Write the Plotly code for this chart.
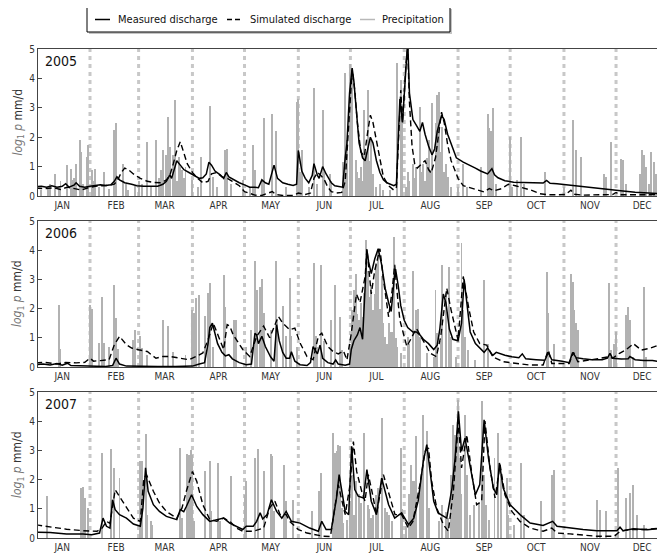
import plotly.graph_objects as go

# ---------------- data ----------------
YEARS = ["2005", "2006", "2007"]
MONTH_LABELS = ["JAN", "FEB", "MAR", "APR", "MAY", "JUN", "JUL", "AUG", "SEP", "OCT", "NOV", "DEC"]
MONTH_MID_DAYS = [15, 46, 74, 105, 135, 166, 196, 227, 258, 288, 319, 349]
MONTH_START_DAYS = [31, 59, 90, 120, 151, 181, 212, 243, 273, 304, 334]
Y_TICKS = [0, 1, 2, 3, 4, 5]

# (day of year, log value)
measured_2005 = [(0,0.32),(3,0.33),(6,0.3),(9,0.35),(12,0.3),(15,0.33),(17,0.42),(19,0.3),(22,0.38),(23,0.45),
    (25,0.33),(28,0.3),(31,0.33),(34,0.36),(37,0.38),(40,0.36),(43,0.38),(45,0.5),(46.5,0.65),(48,0.55),
    (51,0.45),(55,0.4),(58,0.35),(62,0.33),(66,0.33),(70,0.33),(73,0.4),(75,0.5),(77,0.72),(78,0.6),
    (80,1.0),(81,1.2),(83,1.05),(85,0.9),(88,0.8),(91,0.7),(94,0.6),(96,0.62),(98,0.75),(99.5,1.15),
    (101,1.05),(103,0.85),(106,0.72),(108,0.6),(109.5,0.8),(111,0.65),(114,0.55),(117,0.45),(120,0.38),(123,0.3),
    (126,0.3),(128,0.28),(130,0.55),(132,0.45),(134,0.4),(137,1.05),(139,0.6),(142,0.45),(145,0.4),(148,0.36),
    (150,0.4),(151,1.55),(153,0.85),(155,0.6),(157,0.45),(159,0.7),(160,1.1),(162,0.7),(163,0.6),(165,1.0),
    (167,0.75),(170,0.45),(172,0.35),(175,0.3),(176.5,0.3),(178,1.3),(179,1.8),(180.5,3.5),(182,4.35),(183,3.9),
    (184.5,2.8),(186,1.8),(188,1.3),(189.5,1.2),(191,1.6),(192.5,2.0),(194,1.8),(196,1.2),(198,0.8),(200,0.55),
    (202,0.45),(204,0.4),(206,0.35),(207.5,0.4),(208.5,1.6),(209.5,3.3),(211,2.5),(212.5,3.8),(214,5.3),(215,3.5),
    (217,2.6),(219,2.4),(221,2.2),(222.5,2.5),(224,2.1),(226,1.7),(228,1.4),(229.5,1.6),(231,2.2),(233.5,2.75),
    (235,2.6),(237,2.1),(239,1.8),(242,1.3),(246,1.15),(250,1.05),(253,0.95),(256,0.85),(260,0.75),(262.5,0.93),
    (264,0.72),(266,0.62),(270,0.52),(275,0.47),(280,0.46),(286,0.45),(292,0.44),(294,0.53),(296,0.43),(300,0.42),
    (307,0.37),(315,0.32),(322,0.26),(330,0.22),(338,0.17),(345,0.13),(351,0.1),(358,0.08),(364,0.07)]

simulated_2005 = [(0,0.27),(5,0.25),(10,0.28),(14,0.22),(18,0.3),(22,0.25),(26,0.2),(30,0.28),(34,0.33),(38,0.35),
    (42,0.36),(45,0.4),(47,0.55),(49,0.8),(51,0.95),(53,0.9),(56,0.75),(60,0.6),(64,0.5),(68,0.46),(72,0.45),
    (75,0.55),(77,0.7),(79,1.1),(81,1.55),(83,1.85),(85,1.5),(87,1.1),(90,0.8),(93,0.6),(96,0.45),(99,0.5),
    (101,0.75),(104,0.8),(107,0.65),(110,0.6),(113,0.5),(117,0.35),(120,0.15),(123,0.08),(126,0.03),(130,0.02),
    (133,0.08),(136,0.15),(138,0.05),(142,0.02),(148,0.02),(151,0.1),(155,0.05),(158,0.1),(160,0.6),(162,0.8),
    (164,0.7),(166,0.55),(168,0.3),(170,0.15),(173,0.1),(176,0.12),(178,0.5),(179.5,1.9),(181,3.5),(182,4.3),
    (183.5,3.6),(185,2.5),(187,1.5),(189,1.35),(191,2.2),(192.5,2.75),(194,2.5),(196,1.9),(198,1.2),(200,0.65),
    (203,0.35),(206,0.2),(207.5,0.3),(209,2.0),(210,3.6),(211,2.5),(213,4.5),(214,5.0),(215,3.2),(216.5,1.7),
    (218,1.1),(219.5,0.95),(222,1.1),(224,1.2),(226,0.9),(227.5,0.78),(230,1.3),(232,2.3),(233.5,2.85),(235,2.5),
    (237,1.75),(239,1.2),(241,0.9),(243,0.6),(246,0.35),(250,0.28),(254,0.22),(258,0.14),(261,0.25),(264,0.18),
    (268,0.25),(272,0.4),(276,0.35),(280,0.28),(285,0.2),(290,0.08),(295,0.04),(300,0.04),(305,0.05),(308,0.2),
    (310,0.06),(315,0.03),(325,0.03),(332,0.05),(334,0.12),(336,0.04),(345,0.04),(355,0.05),(364,0.05)]

precip_2005 = [(3,0.2),(7,0.25),(8,0.4),(11,0.76),(13,0.3),(14,0.5),(18,1.05),(20,0.93),(21,0.55),(22,0.6),
    (23,1.1),(25,1.9),(26,1.5),(27,0.4),(29,1.33),(30,1.73),(32,0.88),(33,0.5),(34,0.93),(36,0.3),(39,0.8),
    (42,0.25),(45,2.25),(46,2.5),(50,1.1),(52,0.4),(53,0.2),(57,0.35),(59,0.5),(61,0.4),(64,1.84),(66,0.3),
    (69,1.9),(71,0.6),(72,0.9),(73,1.55),(75,1.4),(76,2.7),(77,1.65),(79,1.4),(80,3.27),(81,0.5),(82,1.33),
    (83,1.0),(84,0.88),(85,0.6),(86,1.0),(90,0.53),(93,0.3),(95,1.33),(100,3.05),(102,0.65),(104,0.3),(109,1.55),
    (110,1.6),(112,0.4),(119,0.53),(123,0.3),(125,1.73),(126,0.88),(130,0.5),(131,2.65),(136,2.8),(138,2.2),
    (144,0.3),(150,3.2),(151,3.3),(152,0.8),(153,1.55),(157,0.3),(160,3.67),(162,0.4),(165,2.93),(166,0.8),
    (169,0.76),(170,0.5),(177,1.16),(178,4.18),(179,1.9),(181,4.5),(182,4.35),(184,1.22),(185,0.8),(186,0.6),
    (187,1.0),(188,0.5),(189,2.93),(190,1.5),(191,3.6),(192,1.2),(193,1.9),(194,0.76),(196,0.3),(198,0.4),
    (200,0.2),(204,0.2),(208,4.52),(210,3.95),(211,3.04),(213,0.3),(214,0.8),(215,0.5),(217,1.1),(218,0.6),
    (219,1.0),(221,3.04),(222,0.8),(223,1.1),(224,0.5),(225,1.3),(226,1.9),(227,0.9),(228,3.15),(230,2.47),
    (231,3.44),(232,3.55),(233,1.5),(234,2.36),(235,0.8),(236,1.1),(237,0.65),(239,0.3),(243,0.3),(246,1.1),
    (248,0.3),(256,1.0),(260,2.8),(261,2.3),(262,2.2),(263,3.0),(265,0.42),(273,2.0),(274,0.3),(277,0.53),
    (279,2.0),(281,0.42),(293,0.82),(304,0.3),(309,2.6),(311,1.55),(314,1.33),(327,0.76),(328,0.65),(331,1.85),
    (337,1.27),(338,1.22),(340,0.42),(348,0.76),(349,1.55),(350,1.4),(351,1.0),(353,0.42),(354,1.5),(356,1.16),
    (357,0.76),(361,0.2)]

measured_2006 = [(0,0.08),(4,0.1),(8,0.07),(12,0.12),(15,0.06),(18,0.13),(20,0.05),(25,0.03),(30,0.03),(40,0.02),
    (44,0.05),(46,0.3),(48,0.1),(52,0.03),(60,0.02),(70,0.02),(80,0.02),(90,0.03),(94,0.1),(97,0.15),(99,0.8),
    (100,1.35),(101.5,1.5),(103,1.1),(104.5,0.8),(107,0.5),(109,0.38),(111,0.42),(113,0.28),(117,0.15),(121,0.08),
    (124,0.1),(125,0.6),(126,1.15),(127,1.1),(128,0.8),(130,1.05),(132,0.7),(135,0.35),(137,0.2),(138.5,1.45),
    (140,0.9),(142,0.5),(144,0.3),(146,0.3),(147,0.52),(149,0.2),(152,0.08),(156,0.05),(158,0.15),(159.5,0.7),
    (161,0.55),(162,0.45),(163.5,0.75),(165,0.3),(168,0.15),(171,0.1),(172.5,0.24),(174,0.1),(178,0.06),(180.5,0.1),
    (181.5,0.6),(183,0.9),(185,1.1),(186.5,1.35),(188,0.95),(189.5,3.0),(190.5,4.0),(191.5,3.6),(193,3.2),(195,3.7),
    (197,4.05),(199,3.5),(201,2.7),(203,2.2),(204.5,1.9),(206,2.9),(207,3.35),(208.5,2.8),(210,2.1),(212,1.6),
    (214,1.35),(217,1.2),(219,1.2),(221,1.1),(223,0.95),(226,0.8),(229,0.6),(231,0.75),(232.5,1.3),(234.5,2.5),
    (236,2.2),(238,1.3),(240,0.95),(243,0.9),(245,1.5),(246.5,3.0),(248,2.2),(250,1.2),(253,0.8),(256,0.6),
    (258,0.5),(260,0.65),(263,0.4),(265,0.5),(270,0.4),(274,0.35),(278,0.32),(280,0.45),(282,0.28),(288,0.25),
    (293,0.23),(295,0.5),(297,0.25),(303,0.2),(307,0.15),(309,0.5),(311,0.32),(315,0.28),(320,0.25),(326,0.25),
    (329,0.3),(330.5,0.47),(332,0.3),(337,0.27),(341,0.28),(342,0.36),(345,0.25),(350,0.22),(355,0.22),(360,0.18),
    (364,0.15)]

simulated_2006 = [(0,0.14),(5,0.16),(12,0.1),(17,0.16),(23,0.14),(28,0.16),(31,0.3),(33,0.2),(37,0.22),(42,0.25),
    (45,0.76),(48,1.05),(52,0.76),(55,0.65),(59,0.59),(64,0.53),(69,0.3),(73,0.36),(77,0.36),(83,0.3),(88,0.25),
    (92,0.36),(96,0.48),(99,0.93),(102,1.5),(104,1.2),(108,0.6),(110,1.45),(111.5,1.4),(113.5,1.1),(119,0.6),
    (123,0.36),(127,1.05),(131,1.4),(134.5,1.0),(139.5,1.73),(142,1.5),(146,1.28),(149,1.33),(152,0.82),(156,0.36),
    (159.5,0.25),(162.5,1.05),(164.5,1.16),(168,0.7),(171,0.53),(174,0.45),(177,0.55),(179,0.24),(181.5,1.15),
    (184.5,2.5),(186.5,2.2),(189.5,3.1),(190.5,4.05),(193,2.5),(195,3.3),(198,4.05),(200,3.0),(203,1.72),(205,2.6),
    (206.5,3.5),(208,2.5),(209.5,1.6),(213.5,0.7),(216,1.0),(219,1.32),(222,1.0),(227,0.47),(230.5,0.35),(233,1.04),
    (236.5,2.7),(239,1.95),(243,0.92),(246,3.1),(249,2.07),(252,1.2),(255.5,0.8),(259.5,0.75),(263,0.35),(269,0.18),
    (277,0.12),(284,0.07),(292,0.07),(295,0.58),(297,0.12),(307,0.12),(309.5,0.5),(312,0.18),(319,0.24),(330,0.35),
    (332,0.3),(336,0.47),(340,0.6),(344,0.8),(348.5,0.58),(353.5,0.64),(358.5,0.75),(364,0.58)]

precip_2006 = [(13,2.13),(14,0.6),(31,2.13),(32,2.0),(36,0.82),(38,2.4),(39,0.82),(42,0.7),(45,2.8),(46,1.67),
    (47,0.6),(56,0.93),(57,1.27),(60,1.05),(61,0.65),(64,0.4),(73,1.6),(76,1.42),(79,0.5),(86,0.4),(90,1.96),
    (91,1.85),(92,2.36),(94,2.47),(97,1.73),(99,2.53),(100,2.87),(102,0.7),(108,3.15),(109,2.07),(114,1.6),
    (115,1.6),(121,0.7),(124,1.27),(126,3.63),(127,2.64),(129,2.75),(130,3.0),(131,1.85),(135,1.27),(138,3.63),
    (139,1.6),(142,2.1),(144,1.05),(146,3.04),(147,1.05),(150,0.7),(160,3.55),(161,1.05),(162,0.7),(164,3.5),
    (166,0.9),(170,1.6),(172,2.8),(175,1.72),(176,0.58),(181,0.8),(182,1.95),(183,2.64),(184,3.2),(185,1.8),
    (186,1.6),(187,2.2),(188,1.72),(189,2.52),(190,4.35),(191,3.3),(192,2.4),(193,2.8),(194,1.95),(195,2.5),
    (196,3.55),(197,4.0),(198,2.0),(199,3.1),(200,1.5),(201,1.04),(202,0.8),(203,1.5),(204,1.2),(205,1.2),
    (206,4.45),(207,1.0),(208,0.7),(210,0.47),(214,1.04),(215,0.8),(217,3.3),(219,1.95),(220,2.0),(221,1.04),
    (225,0.47),(229,0.35),(230,2.64),(231,1.15),(233,0.9),(234,3.5),(236,2.52),(238,3.44),(239,1.04),(242,0.35),
    (245,4.23),(246,1.95),(247,1.04),(249,0.58),(253,0.24),(258,2.98),(260,0.8),(294,3.26),(295,1.84),(298,0.8),
    (308,3.2),(309,2.92),(310,1.95),(311,1.5),(312,1.27),(330,2.87),(331,0.58),(333,0.8),(334,1.2),(340,1.78),
    (341,2.07),(342,1.6),(344,0.35),(350,2.75),(351,0.35)]

measured_2007 = [(0,0.2),(8,0.19),(17.5,0.14),(27,0.14),(32,0.11),(36.5,0.17),(38.5,0.68),(40.5,0.4),(42.5,0.34),
    (44,1.31),(45.5,0.97),(48,0.8),(52,0.68),(56,0.48),(60,0.4),(61.5,1.03),(63,2.4),(64.5,1.6),(67.5,1.14),(71,0.91),
    (75,0.74),(81,0.63),(83,0.97),(85,0.9),(86.5,1.08),(89.5,1.48),(92.5,1.08),(96,0.8),(100,0.57),(104,0.63),
    (108,0.68),(111.5,0.51),(115.5,0.4),(119,0.29),(121,0.4),(125,0.4),(127,0.57),(129,0.86),(130.5,0.65),(133,0.8),
    (135.5,1.31),(138.5,0.91),(141.5,0.68),(144,0.91),(147,0.57),(152,0.51),(157.5,0.34),(162.5,0.23),(164.5,0.57),
    (167,0.29),(170,0.29),(171.5,0.8),(173,1.37),(174.5,2.17),(176,1.6),(178,0.91),(180,0.8),(181.7,3.14),(183.5,1.66),
    (185.5,1.43),(188.5,1.37),(190.5,2.34),(193,1.26),(196,0.8),(199,2.05),(203,1.14),(206.5,0.68),(210.5,0.86),
    (214.5,0.46),(217.5,0.68),(220,1.26),(223,2.63),(225,3.2),(227,2.17),(229,1.26),(231.5,0.86),(236.5,0.68),
    (239.5,1.71),(241.3,2.74),(243.2,4.34),(245,2.97),(247,3.42),(250,2.4),(253,1.48),(255.5,1.83),(258,4.05),
    (260.5,2.74),(263.3,1.71),(265.3,1.48),(266.8,2.57),(269,1.71),(273,1.14),(278.7,0.8),(284.5,0.51),(292,0.43),
    (297.5,0.57),(300,0.4),(307.5,0.34),(315,0.29),(323,0.25),(334.5,0.25),(336.3,0.37),(338,0.25),(344,0.32),
    (352,0.28),(361,0.34)]

simulated_2007 = [(0,0.45),(8,0.38),(17.5,0.3),(27,0.25),(35,0.23),(38,0.34),(40.5,0.57),(42.5,0.5),(45.5,1.65),
    (48.5,1.37),(52,1.03),(56,0.68),(60,0.57),(62,2.05),(63.5,2.17),(67.5,1.6),(71,1.2),(75,0.91),(81,0.68),(84,1.03),
    (86.5,1.6),(90,2.28),(92.5,1.94),(96,1.14),(100,0.63),(104,0.57),(108,0.68),(111.5,0.57),(115.5,0.34),(119,0.23),
    (125,0.23),(131,0.34),(134.5,1.03),(137.5,1.26),(140.5,0.8),(144,0.8),(146,0.57),(151,0.29),(156,0.17),
    (161.5,0.11),(165.5,0.06),(169.5,0.05),(172,1.03),(174,1.83),(176,1.31),(178,0.8),(180.8,1.83),(182.7,3.3),
    (184.6,2.28),(187.5,1.6),(189.4,1.26),(191.3,2.17),(193.2,1.66),(196,0.8),(200,2.17),(202.8,1.6),(206.7,0.8),
    (210.5,0.8),(214.4,0.34),(217,0.57),(221,1.83),(224,2.97),(226,3.08),(227.8,1.94),(230.7,1.03),(234.5,0.46),
    (237.4,0.23),(240.3,1.6),(243.2,4.0),(245,2.4),(248,3.54),(251,2.17),(253.7,1.14),(256.6,1.26),(258.5,4.0),
    (261.4,2.4),(264.3,1.37),(267.2,2.51),(270,1.48),(274,0.91),(278.7,0.57),(284.5,0.34),(292,0.23),(297,0.34),
    (300,0.17),(307.5,0.14),(323,0.06),(333,0.06),(336.3,0.23),(342,0.29),(350,0.29),(361,0.34)]

precip_2007 = [(6,1.43),(26,1.71),(27,1.73),(28,1.37),(30,1.03),(38,2.9),(43,3.06),(45,2.4),(48,2.05),(60,2.65),
    (61,2.63),(63,3.56),(64,0.8),(66,0.57),(67,0.46),(83,3.08),(84,0.68),(87,2.88),(88,2.85),(89,3.03),(90,2.85),
    (91,0.57),(97,2.28),(100,2.63),(101,0.91),(105,2.57),(106,0.57),(112,2.11),(120,1.48),(121,1.94),(126,2.74),
    (128,3.06),(131,2.28),(135,2.88),(136,2.8),(137,0.91),(143,2.51),(144,1.26),(148,1.31),(159,0.91),(163,1.6),
    (164,2.22),(171,3.6),(172,2.9),(173,2.97),(174,3.2),(175,3.14),(176,1.03),(177,0.5),(179,0.6),(181,1.26),
    (182,2.17),(183,0.8),(184,1.94),(186,1.5),(187,1.2),(189,3.6),(191,1.14),(192,1.0),(193,0.68),(194,0.8),
    (196,1.48),(197,1.71),(199,4.1),(201,1.03),(202,0.9),(203,0.8),(205,0.57),(210,3.08),(211,1.0),(213,0.4),
    (215,1.5),(216,2.51),(217,1.94),(218,1.94),(219,3.48),(221,1.83),(222,2.3),(223,4.22),(225,3.65),(226,1.03),
    (232,0.57),(234,1.14),(236,0.9),(237,0.68),(239,2.17),(240,3.88),(241,3.54),(242,2.97),(243,4.74),(244,2.74),
    (245,1.5),(247,4.22),(248,2.17),(250,0.8),(252,1.14),(255,1.2),(257,4.68),(258,2.17),(259,1.14),(261,0.6),
    (264,2.74),(266,3.6),(268,2.17),(271,2.05),(272,0.8),(275,0.46),(279,2.57),(281,0.8),(291,1.26),(297,2.17),
    (298,2.34),(323,1.31),(325,0.97),(328,0.91),(335,2.4),(340,1.37),(342,1.54),(344,1.83),(346,0.8),(350,0.46),
    (361,1.94)]

SERIES = [
    (measured_2005, simulated_2005, precip_2005),
    (measured_2006, simulated_2006, precip_2006),
    (measured_2007, simulated_2007, precip_2007),
]

# ---------------- styling / layout constants ----------------
# The page places the figure 8 px from the window's top-left corner (default body margin),
# so the figure is sized and laid out in window pixels minus that offset.
OFF = 8
W, H = 665 - OFF, 555 - OFF
ML = 38 - OFF
PLOT_W = W - ML
PANELS_PX = [(49, 196), (221, 367), (392, 538)]   # window pixels (top, bottom)
X_RANGE = [1.05, 362.2]
FONT = "DejaVu Sans Condensed, DejaVu Sans, sans-serif"
AXIS_COLOR = "#444444"
PREC_COLOR = "#b2b2b2"
MONTH_LINE_COLOR = "#c8c8c8"


def unzip(pairs):
    return [p[0] for p in pairs], [p[1] for p in pairs]


def px_x(px):
    return (px - OFF - ML) / PLOT_W


def px_y(py):
    return 1 - (py - OFF) / H


fig = go.Figure()
layout_axes = {}
shapes = []
annotations = []

for i, (meas, sim, prec) in enumerate(SERIES):
    n = "" if i == 0 else str(i + 1)
    xa, ya = "x" + n, "y" + n
    d, v = unzip(prec)
    fig.add_trace(go.Bar(x=d, y=v, width=0.55, marker=dict(color=PREC_COLOR, line=dict(width=0)),
                         xaxis=xa, yaxis=ya, showlegend=False, hoverinfo="skip"))
    d, v = unzip(sim)
    fig.add_trace(go.Scatter(x=d, y=v, mode="lines", line=dict(color="black", width=1.4, dash="6px,3.5px"),
                             xaxis=xa, yaxis=ya, showlegend=False, hoverinfo="skip"))
    d, v = unzip(meas)
    fig.add_trace(go.Scatter(x=d, y=v, mode="lines", line=dict(color="black", width=1.5),
                             xaxis=xa, yaxis=ya, showlegend=False, hoverinfo="skip"))

    top, bot = PANELS_PX[i]
    layout_axes["xaxis" + n] = dict(
        domain=[0, 1], range=X_RANGE, anchor=ya, tickmode="array",
        tickvals=MONTH_MID_DAYS, ticktext=MONTH_LABELS, ticks="",
        showline=True, mirror=True, linecolor=AXIS_COLOR, linewidth=1,
        showgrid=False, zeroline=False, tickfont=dict(family=FONT, size=10, color="#333333"),
        fixedrange=True)
    layout_axes["yaxis" + n] = dict(
        domain=[px_y(bot), px_y(top)], range=[0, 5], anchor=xa, tickmode="array",
        tickvals=Y_TICKS, ticks="inside", ticklen=4, tickcolor=AXIS_COLOR,
        showline=True, mirror="ticks", linecolor=AXIS_COLOR, linewidth=1,
        showgrid=False, zeroline=False, tickfont=dict(family=FONT, size=10, color="#333333"),
        fixedrange=True)

    for ms in MONTH_START_DAYS:
        shapes.append(dict(type="line", xref=xa, yref=ya + " domain", x0=ms, x1=ms, y0=0, y1=1,
                           line=dict(color=MONTH_LINE_COLOR, width=3, dash="4px,4px"), layer="below"))

    annotations.append(dict(xref=xa + " domain", yref=ya + " domain", x=0.008, y=0.985,
                            xanchor="left", yanchor="top", showarrow=False, text=YEARS[i],
                            font=dict(family=FONT, size=14, color="#111111")))
    annotations.append(dict(xref="paper", yref=ya + " domain", x=px_x(18), y=0.5, xanchor="center",
                            yanchor="middle", showarrow=False, textangle=-90,
                            text='<span style="color:#777777"><i>log</i><sub>1</sub> <i>p</i></span> mm/d',
                            font=dict(family=FONT, size=12, color="#333333")))

# ---------------- custom legend (window pixels) ----------------
LEG_BOX = (87, 7, 450, 32)
shapes.append(dict(type="rect", xref="paper", yref="paper", x0=px_x(LEG_BOX[0] + 2), x1=px_x(LEG_BOX[2] + 2),
                   y0=px_y(LEG_BOX[3] + 2), y1=px_y(LEG_BOX[1] + 2), fillcolor="#c4c4c4",
                   line=dict(width=0), layer="above"))
shapes.append(dict(type="rect", xref="paper", yref="paper", x0=px_x(LEG_BOX[0]), x1=px_x(LEG_BOX[2]),
                   y0=px_y(LEG_BOX[3]), y1=px_y(LEG_BOX[1]), fillcolor="white",
                   line=dict(color="black", width=1), layer="above"))
legend_items = [
    ("Measured discharge", 95, 110, 116, dict(color="black", width=1.5)),
    ("Simulated discharge", 227, 242, 248, dict(color="black", width=1.5, dash="5px,3px")),
    ("Precipitation", 360, 375, 380, dict(color="#b8b8b8", width=1.5)),
]
leg_y = 19.5
for label, s0, s1, tx, ln in legend_items:
    shapes.append(dict(type="line", xref="paper", yref="paper", x0=px_x(s0), x1=px_x(s1),
                       y0=px_y(leg_y), y1=px_y(leg_y), line=ln, layer="above"))
    annotations.append(dict(xref="paper", yref="paper", x=px_x(tx), y=px_y(leg_y), xanchor="left",
                            yanchor="middle", showarrow=False, text=label,
                            font=dict(family=FONT, size=11, color="#111111")))

fig.update_layout(
    width=W, height=H,
    margin=dict(l=ML, r=0, t=0, b=0, autoexpand=False),
    paper_bgcolor="white", plot_bgcolor="white",
    barmode="overlay", bargap=0,
    showlegend=False,
    shapes=shapes, annotations=annotations,
    font=dict(family=FONT),
    **layout_axes,
)

fig.write_html("out.html")
